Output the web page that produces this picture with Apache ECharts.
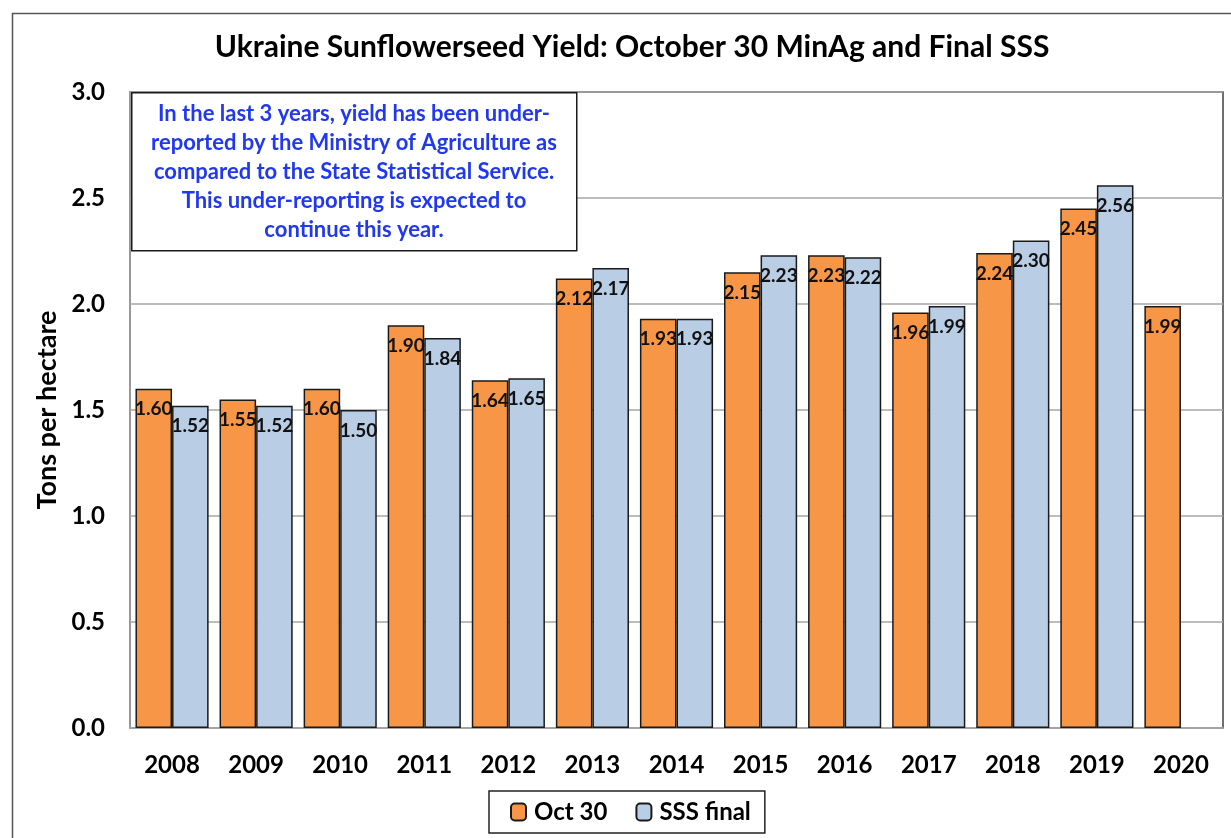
<!DOCTYPE html>
<html>
<head>
<meta charset="utf-8">
<script src="https://cdn.jsdelivr.net/npm/echarts@6/dist/echarts.min.js"></script>
<style>
  html, body { margin: 0; padding: 0; background: #fff; }
  #chart { width: 1231px; height: 838px; }
</style>
</head>
<body>
<div id="chart"></div>
<script>
const years = ["2008", "2009", "2010", "2011", "2012", "2013", "2014", "2015", "2016", "2017", "2018", "2019", "2020"];
const oct30 = [1.60, 1.55, 1.60, 1.90, 1.64, 2.12, 1.93, 2.15, 2.23, 1.96, 2.24, 2.45, 1.99];
const sssFinal = [1.52, 1.52, 1.50, 1.84, 1.65, 2.17, 1.93, 2.23, 2.22, 1.99, 2.30, 2.56, null];
const noteLines = [
  "In the last 3 years, yield has been under-",
  "reported by the Ministry of Agriculture as",
  "compared to the State Statistical Service.",
  "This under-reporting is expected to",
  "continue this year.",
];

const FONT = "Lato, 'Open Sans', sans-serif";

const chart = echarts.init(document.getElementById("chart"));

const barLabel = {
  show: true,
  position: "insideTop",
  distance: 11,
  color: "#111",
  fontFamily: FONT,
  fontWeight: "bold",
  fontSize: 19,
  formatter: (p) => (p.value == null ? "" : Number(p.value).toFixed(2)),
};

const option = {
  animation: false,
  textStyle: { fontFamily: FONT },
  title: {
    text: "Ukraine Sunflowerseed Yield: October 30 MinAg and Final SSS",
    left: 627,
    textAlign: "center",
    top: 27,
    textStyle: { fontFamily: FONT, fontWeight: "bold", fontSize: 30, color: "#000" },
  },
  grid: {
    left: 130,
    right: 8,
    top: 92,
    bottom: 110,
    show: true,
    borderColor: "#404040",
    borderWidth: 1.5,
  },
  legend: {
    data: ["Oct 30", "SSS final"],
    left: 489,
    top: 791,
    padding: [9, 14, 9, 21],
    itemGap: 28,
    itemWidth: 15,
    itemHeight: 17,
    borderColor: "#222",
    borderWidth: 1.5,
    textStyle: { fontFamily: FONT, fontWeight: "bold", fontSize: 24, color: "#000", padding: [0, 0, 0, 3] },
  },
  xAxis: {
    type: "category",
    data: years,
    axisLine: { lineStyle: { color: "#a6a6a6", width: 1.5 } },
    axisTick: { show: false },
    axisLabel: { color: "#000", fontFamily: FONT, fontWeight: "bold", fontSize: 24, margin: 25 },
  },
  yAxis: {
    type: "value",
    min: 0,
    max: 3,
    interval: 0.5,
    name: "Tons per hectare",
    nameLocation: "middle",
    nameGap: 68,
    nameTextStyle: { color: "#000", fontFamily: FONT, fontWeight: "bold", fontSize: 27 },
    axisLine: { show: true, lineStyle: { color: "#a6a6a6", width: 1.5 } },
    axisTick: { show: false },
    axisLabel: {
      color: "#000",
      fontFamily: FONT,
      fontWeight: "bold",
      fontSize: 24,
      margin: 25,
      formatter: (v) => v.toFixed(1),
    },
    splitLine: { lineStyle: { color: "#a6a6a6", width: 1.5 } },
  },
  series: [
    {
      name: "Oct 30",
      type: "bar",
      data: oct30,
      barGap: "0%",
      barCategoryGap: "13%",
      itemStyle: { color: "#f79646", borderColor: "#1a1a1a", borderWidth: 1.5 },
      label: barLabel,
    },
    {
      name: "SSS final",
      type: "bar",
      data: sssFinal,
      itemStyle: { color: "#b9cde5", borderColor: "#1a1a1a", borderWidth: 1.5 },
      label: barLabel,
    },
  ],
  graphic: [
    {
      type: "rect",
      left: 10,
      top: 11,
      shape: { width: 1400, height: 1000 },
      style: { fill: "none", stroke: "#555", lineWidth: 1.5 },
      silent: true,
      z: 0,
    },
    {
      type: "rect",
      left: 131,
      top: 92,
      shape: { width: 445, height: 158 },
      style: { fill: "#fff", stroke: "#1a1a1a", lineWidth: 1.5 },
      z: 100,
    },
    {
      type: "text",
      x: 354,
      y: 99,
      style: {
        text: noteLines.join("\n"),
        textAlign: "center",
        fill: "#2038f0",
        font: "bold 22px " + FONT,
        lineHeight: 29,
      },
      z: 101,
    },
  ],
};

chart.setOption(option);
</script>
</body>
</html>
